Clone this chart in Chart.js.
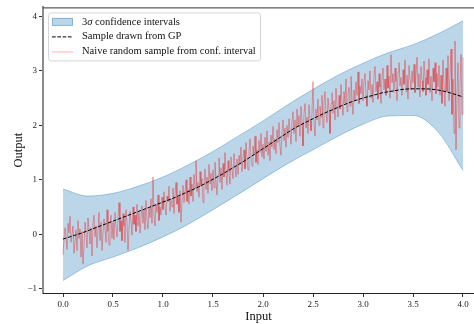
<!DOCTYPE html>
<html>
<head>
<meta charset="utf-8">
<script src="https://cdn.jsdelivr.net/npm/chart.js@4.4.1/dist/chart.umd.min.js"></script>
<style>
  html, body { margin: 0; padding: 0; background: #fff; }
</style>
</head>
<body>
<canvas id="grafica" width="474" height="324"></canvas>
<script>
const bandX = [0, 0.25, 0.5, 0.75, 1, 1.25, 1.5, 1.75, 2, 2.25, 2.5, 2.75, 3, 3.25, 3.5, 3.75, 4];
const bandUpper = [0.83, 0.70, 0.75, 0.88, 1.05, 1.27, 1.52, 1.80, 2.08, 2.38, 2.66, 2.92, 3.14, 3.33, 3.48, 3.68, 3.92];
const bandLower = [-0.85, -0.58, -0.42, -0.25, -0.05, 0.18, 0.45, 0.73, 1.02, 1.30, 1.55, 1.80, 2.02, 2.17, 2.18, 1.88, 1.17];

// Muestra del GP (linea negra discontinua), cada 0.1
const gpX = [0, 0.1, 0.2, 0.3, 0.4, 0.5, 0.6, 0.7, 0.8, 0.9, 1, 1.1, 1.2, 1.3, 1.4, 1.5, 1.6, 1.7, 1.8, 1.9, 2,
  2.1, 2.2, 2.3, 2.4, 2.5, 2.6, 2.7, 2.8, 2.9, 3, 3.1, 3.2, 3.3, 3.4, 3.5, 3.6, 3.7, 3.8, 3.9, 4];
const gpSample = [-0.09, -0.03, 0.03, 0.10, 0.17, 0.24, 0.31, 0.38, 0.45, 0.52, 0.59, 0.66, 0.74, 0.82, 0.91,
  1.01, 1.11, 1.22, 1.33, 1.45, 1.57, 1.69, 1.81, 1.93, 2.03, 2.12, 2.21, 2.29, 2.37, 2.44, 2.50,
  2.55, 2.60, 2.63, 2.66, 2.67, 2.67, 2.66, 2.63, 2.58, 2.52];

// Muestra "naive" (linea roja), un valor cada 0.01 de 0 a 4
const naiveStep = 0.01;
const naiveSample = [
  // 0.00 - 0.24
  -0.38, -0.10, 0.12, -0.05, -0.28, 0.20, 0.02, 0.33, -0.15, -0.02, 0.15, -0.35, -0.12,
  0.08, -0.30, 0.25, -0.08, 0.10, -0.42, 0.05, -0.55, -0.20, 0.22, 0.02, -0.25,
  // 0.25 - 0.49
  0.30, 0.05, -0.18, 0.12, -0.40, 0.20, 0.35, -0.05, 0.15, -0.25, 0.08, 0.40, -0.12,
  0.22, -0.30, 0.02, 0.28, 0.10, -0.15, 0.45, 0.05, -0.20, 0.18, 0.35, -0.08,
  // 0.50 - 0.74
  0.22, -0.10, 0.40, 0.12, -0.05, 0.30, 0.58, 0.05, 0.25, -0.12, 0.38, 0.15, -0.15,
  0.45, 0.20, -0.30, 0.10, 0.42, 0.25, -0.02, 0.50, 0.18, 0.35, 0.05, 0.55,
  // 0.75 - 0.99
  0.15, 0.40, 0.02, 0.30, 0.52, 0.20, 0.45, 0.08, 0.62, 0.25, 0.10, 0.48, 0.30,
  0.65, 0.20, 1.05, 0.35, 0.15, 0.55, 0.40, 0.72, 0.25, 0.50, 0.35, 0.68,
  // 1.00 - 1.24
  0.45, 0.78, 0.52, 0.35, 0.70, 0.60, 0.88, 0.42, 0.65, 0.50, 0.85, 0.38, 0.72,
  0.95, 0.55, 0.68, 0.40, 0.80, 0.22, 0.62, 0.90, 0.58, 0.75, 1.00, 0.60,
  // 1.25 - 1.49
  0.82, 0.55, 1.05, 0.70, 0.92, 0.60, 1.10, 0.85, 1.35, 0.78, 0.95, 0.68, 1.15,
  0.88, 1.02, 0.58, 0.90, 1.20, 0.82, 1.05, 0.75, 1.28, 0.92, 1.12, 0.80,
  // 1.50 - 1.74
  1.18, 0.85, 1.32, 0.98, 0.72, 1.10, 1.40, 0.95, 1.22, 0.82, 1.30, 1.05, 1.50,
  1.12, 0.90, 1.35, 1.15, 0.92, 1.42, 1.20, 1.02, 1.48, 1.25, 1.05, 1.38,
  // 1.75 - 1.99
  1.10, 1.45, 1.28, 1.60, 1.15, 1.38, 1.55, 1.20, 1.68, 1.35, 1.18, 1.52, 1.75,
  1.40, 1.25, 1.62, 1.45, 1.80, 1.32, 1.55, 1.28, 1.72, 1.50, 1.85, 1.42,
  // 2.00 - 2.24
  1.65, 1.38, 1.78, 1.52, 1.90, 1.45, 1.70, 1.35, 1.82, 1.60, 1.98, 1.55, 1.75,
  1.48, 1.92, 1.68, 2.05, 1.62, 1.45, 1.88, 2.10, 1.72, 1.95, 1.60, 2.00,
  // 2.25 - 2.49
  1.78, 2.12, 1.90, 1.65, 2.05, 2.25, 1.85, 2.10, 1.70, 2.30, 1.98, 2.18, 1.80,
  2.35, 2.05, 1.62, 2.22, 2.40, 1.95, 2.15, 1.85, 2.38, 2.08, 1.90, 2.25,
  // 2.50 - 2.74
  2.80, 2.02, 1.80, 2.30, 2.10, 2.48, 2.00, 2.35, 2.15, 2.55, 1.95, 2.42, 2.62,
  2.20, 2.05, 2.50, 2.28, 1.85, 2.40, 2.60, 2.22, 2.45, 2.10, 2.68, 2.35,
  // 2.75 - 2.99
  2.15, 2.55, 2.30, 2.75, 2.42, 2.18, 2.62, 2.40, 2.85, 2.25, 2.55, 2.70, 2.35,
  2.90, 2.50, 2.20, 2.65, 2.45, 2.80, 2.55, 2.98, 2.40, 2.72, 2.58, 2.85,
  // 3.00 - 3.24
  2.45, 2.78, 2.95, 2.55, 2.35, 2.82, 2.65, 3.00, 2.50, 2.75, 2.42, 2.90, 3.08,
  2.62, 2.80, 2.48, 2.95, 2.70, 2.40, 2.88, 3.05, 2.65, 2.85, 2.55, 3.10,
  // 3.25 - 3.49
  2.68, 2.90, 2.50, 3.30, 2.78, 2.95, 2.60, 3.05, 2.80, 2.45, 2.98, 3.15, 2.72,
  2.88, 2.55, 3.02, 2.75, 3.20, 2.62, 2.92, 2.48, 3.10, 2.85, 2.65, 3.00,
  // 3.50 - 3.74
  2.78, 3.12, 2.60, 2.92, 3.25, 2.70, 2.95, 2.52, 3.08, 2.82, 2.62, 3.18, 2.88,
  2.55, 3.02, 2.75, 3.22, 2.60, 2.90, 2.45, 3.05, 2.80, 3.15, 2.58, 2.95,
  // 3.75 - 4.00
  2.70, 3.10, 2.55, 2.92, 2.40, 3.20, 2.75, 2.35, 3.05, 2.62, 3.28, 2.45, 2.95,
  3.40, 2.20, 2.85, 1.85, 3.55, 1.55, 2.60, 3.15, 1.95, 2.75, 3.30, 2.20, 3.25
];

// Etiquetas de los ejes
const xTicks = [0, 0.5, 1, 1.5, 2, 2.5, 3, 3.5, 4];
const yTicks = [-1, 0, 1, 2, 3, 4];
const etiquetas = ["3σ confidence intervals", "Sample drawn from GP", "Naive random sample from conf. interval"];

const serif = "'Liberation Serif', 'Times New Roman', serif";
const azulBanda = 'rgba(31,119,180,0.3)';
const rojoMuestra = 'rgba(235,20,20,0.42)';

const toPoints = (xs, ys) => ys.map((y, i) => ({ x: xs[i], y: y }));

// Borde superior del area (spine de matplotlib)
const bordeSuperior = {
  id: 'bordeSuperior',
  afterDraw(chart) {
    const { ctx, chartArea } = chart;
    ctx.save();
    ctx.strokeStyle = '#333';
    ctx.lineWidth = 1;
    ctx.beginPath();
    ctx.moveTo(chartArea.left, chartArea.top + 0.5);
    ctx.lineTo(chartArea.right, chartArea.top + 0.5);
    ctx.stroke();
    ctx.restore();
  }
};

// Leyenda dibujada a mano dentro del area, arriba a la izquierda
const leyenda = {
  id: 'leyenda',
  afterDraw(chart) {
    const { ctx, chartArea } = chart;
    const x0 = chartArea.left + 5, y0 = chartArea.top + 5;
    const w = 212, h = 48, r = 2.5;
    ctx.save();
    ctx.fillStyle = 'rgba(255,255,255,0.8)';
    ctx.strokeStyle = '#d6d6d6';
    ctx.lineWidth = 1;
    ctx.beginPath();
    ctx.roundRect(x0 + 0.5, y0 + 0.5, w, h, r);
    ctx.fill();
    ctx.stroke();

    const sx = x0 + 4, sw = 21, tx = x0 + 34;
    const filas = [y0 + 9.5, y0 + 24, y0 + 39];
    // parche de la banda
    ctx.fillStyle = azulBanda;
    ctx.fillRect(sx, filas[0] - 4, sw, 8);
    ctx.strokeStyle = 'rgba(31,119,180,0.35)';
    ctx.strokeRect(sx + 0.5, filas[0] - 3.5, sw - 1, 7);
    // linea discontinua
    ctx.strokeStyle = '#000';
    ctx.setLineDash([3.7, 1.6]);
    ctx.beginPath();
    ctx.moveTo(sx, filas[1] + 0.5);
    ctx.lineTo(sx + sw, filas[1] + 0.5);
    ctx.stroke();
    ctx.setLineDash([]);
    // linea roja
    ctx.strokeStyle = 'rgba(255,0,0,0.3)';
    ctx.beginPath();
    ctx.moveTo(sx, filas[2] + 0.5);
    ctx.lineTo(sx + sw, filas[2] + 0.5);
    ctx.stroke();

    ctx.fillStyle = '#111';
    ctx.textBaseline = 'middle';
    ctx.font = '10.5px ' + serif;
    // primera etiqueta con sigma en cursiva
    const partes = etiquetas[0].split('σ');
    let cx = tx;
    ctx.fillText(partes[0], cx, filas[0]);
    cx += ctx.measureText(partes[0]).width;
    ctx.font = 'italic 10.5px ' + serif;
    ctx.fillText('σ', cx, filas[0]);
    cx += ctx.measureText('σ').width;
    ctx.font = '10.5px ' + serif;
    ctx.fillText(partes[1], cx, filas[0]);
    ctx.fillText(etiquetas[1], tx, filas[1]);
    ctx.fillText(etiquetas[2], tx, filas[2]);
    ctx.restore();
  }
};

new Chart(document.getElementById('grafica'), {
  type: 'line',
  data: {
    datasets: [
      {
        label: 'lower',
        data: toPoints(bandX, bandLower),
        borderColor: 'rgba(31,119,180,0.35)',
        borderWidth: 1,
        pointRadius: 0,
        cubicInterpolationMode: 'monotone',
        fill: false,
        order: 4
      },
      {
        label: etiquetas[0],
        data: toPoints(bandX, bandUpper),
        borderColor: 'rgba(31,119,180,0.35)',
        backgroundColor: azulBanda,
        borderWidth: 1,
        pointRadius: 0,
        cubicInterpolationMode: 'monotone',
        fill: '-1',
        order: 3
      },
      {
        label: etiquetas[2],
        data: naiveSample.map((y, i) => ({ x: i * naiveStep, y: y })),
        borderColor: rojoMuestra,
        borderWidth: 0.9,
        pointRadius: 0,
        tension: 0,
        fill: false,
        order: 2
      },
      {
        label: etiquetas[1],
        data: toPoints(gpX, gpSample),
        borderColor: '#000',
        borderWidth: 1,
        borderDash: [3.7, 1.6],
        pointRadius: 0,
        cubicInterpolationMode: 'monotone',
        fill: false,
        order: 1
      }
    ]
  },
  options: {
    responsive: false,
    animation: false,
    events: [],
    layout: { padding: { top: 7, right: 0, bottom: 0, left: 0 } },
    plugins: {
      legend: { display: false },
      tooltip: { enabled: false }
    },
    scales: {
      x: {
        type: 'linear',
        min: -0.2,
        max: 4.11,
        afterBuildTicks: s => { s.ticks = xTicks.map(v => ({ value: v })); },
        afterFit: s => { s.height = 31; },
        grid: { drawOnChartArea: false, drawTicks: true, tickLength: 4, tickColor: '#333' },
        border: { display: true, color: '#222', width: 1 },
        ticks: {
          color: '#222',
          padding: 2,
          maxRotation: 0,
          font: { family: serif, size: 9 },
          callback: v => v.toFixed(1)
        },
        title: {
          display: true,
          text: 'Input',
          color: '#111',
          font: { family: serif, size: 12.5 },
          padding: { top: 0, bottom: 0 }
        }
      },
      y: {
        type: 'linear',
        min: -1.08,
        max: 4.165,
        afterBuildTicks: s => { s.ticks = yTicks.map(v => ({ value: v })); },
        afterFit: s => { s.width = 43; },
        grid: { drawOnChartArea: false, drawTicks: true, tickLength: 4, tickColor: '#333' },
        border: { display: true, color: 'rgba(0,0,0,0.45)', width: 2 },
        ticks: {
          color: '#222',
          padding: 2,
          font: { family: serif, size: 9 },
          callback: v => String(v).replace('-', '\u2212')
        },
        title: {
          display: true,
          text: 'Output',
          color: '#111',
          font: { family: serif, size: 12.5 },
          padding: { top: 11, bottom: 0 }
        }
      }
    }
  },
  plugins: [bordeSuperior, leyenda]
});
</script>
</body>
</html>
